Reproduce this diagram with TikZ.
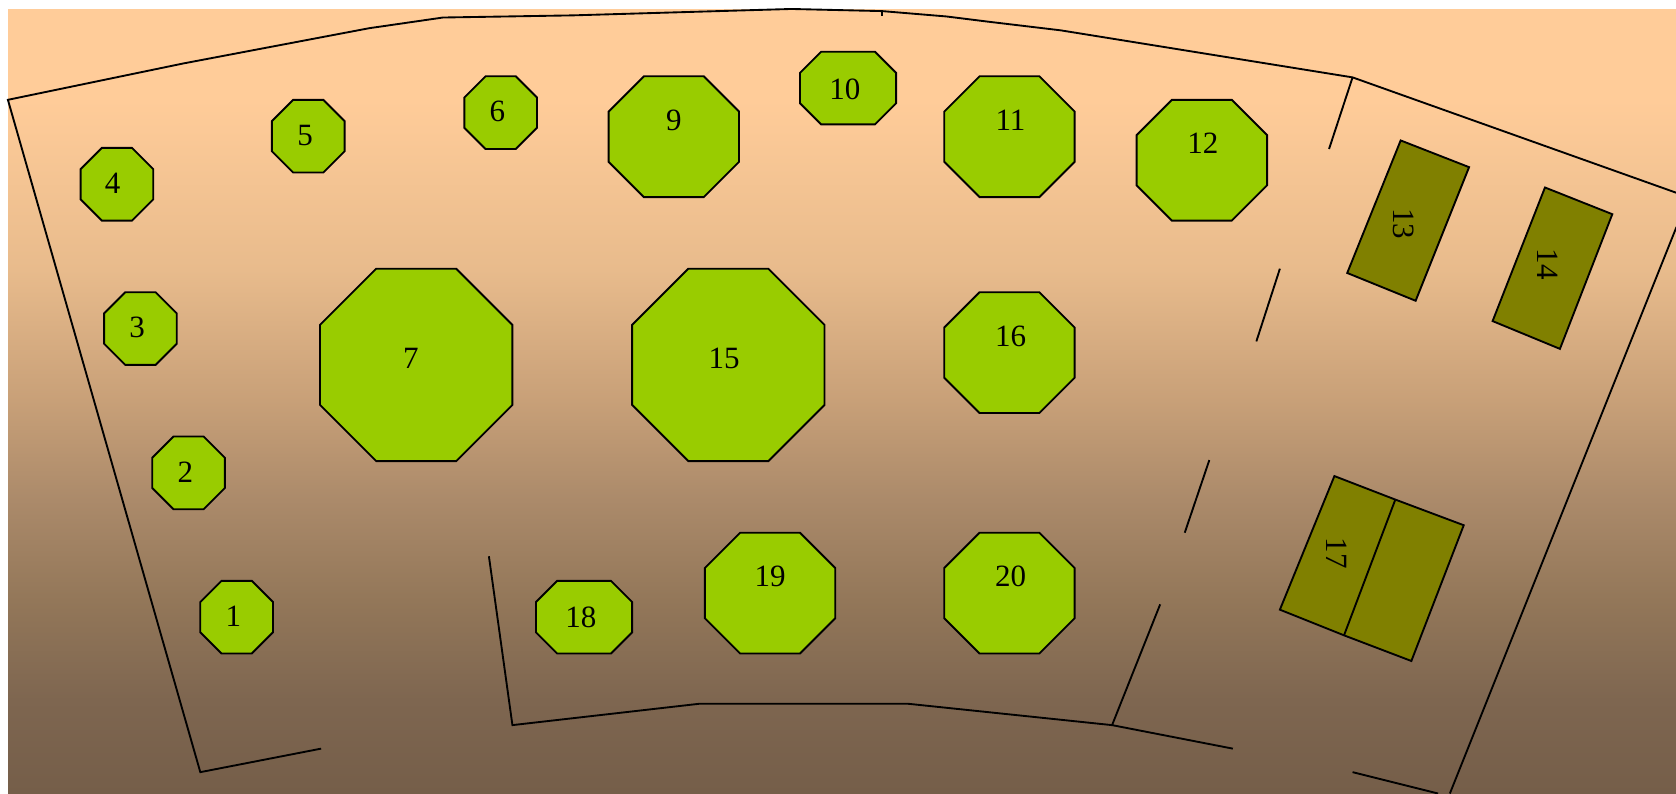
\documentclass[tikz,border=0pt]{standalone}
\usepackage{fontspec}
\setmainfont{Liberation Serif}
\definecolor{seat}{HTML}{99CC00}
\definecolor{stage}{HTML}{808000}
\definecolor{floorA}{HTML}{755E49}
\definecolor{floorB}{HTML}{7E6650}
\definecolor{floorC}{HTML}{937759}
\definecolor{floorD}{HTML}{AB8A6A}
\definecolor{floorE}{HTML}{C8A078}
\definecolor{floorF}{HTML}{E8BB8C}
\definecolor{floorG}{HTML}{FFCC99}
\pgfdeclareverticalshading{roomfloor}{100bp}{
color(0bp)=(floorA);color(25bp)=(floorA);
color(30.93bp)=(floorB);
color(37.31bp)=(floorC);
color(43.69bp)=(floorD);
color(50.06bp)=(floorE);
color(58.37bp)=(floorF);
color(69.2bp)=(floorG);
color(75bp)=(floorG);color(100bp)=(floorG)}
\tikzset{
  wall/.style={draw=black,line width=0.035cm,line join=miter},
  seatshape/.style={draw=black,fill=seat,line width=0.035cm,line join=miter},
  stageshape/.style={draw=black,fill=stage,line width=0.035cm,line join=miter},
  numlabel/.style={inner sep=0pt,font=\fontsize{16.5}{16.5}\selectfont},
  sidelabel/.style={numlabel,rotate=-90}
}
\newcommand{\octa}[8]{%
  % name, x0, x1, y0, y1, label, lx, ly
  \pgfmathsetmacro{\ocx}{0.292*min(#3-#2,#5-#4)}%
  \draw[seatshape] ({#2+\ocx},#4) -- ({#3-\ocx},#4) -- (#3,{#4+\ocx}) -- (#3,{#5-\ocx})
     -- ({#3-\ocx},#5) -- ({#2+\ocx},#5) -- (#2,{#5-\ocx}) -- (#2,{#4+\ocx}) -- cycle;
  \node[numlabel] (#1) at (#7,#8) {#6};
}
\begin{document}
\begin{tikzpicture}[x=0.02cm,y=-0.02cm]
\useasboundingbox (0,0) rectangle (1568,742);
\fill[shading=roomfloor] (7.5,8.5) rectangle (1568,742);
\begin{scope}[shift={(0.4,0.4)}]
% walls
\draw[wall] (300,700) -- (187,722) -- (7,93) -- (171,59) -- (345,26) -- (414,16) -- (535,14) -- (740,8) -- (825,10) -- (885,15) -- (925,20) -- (992,28) -- (1265,72) -- (1568,180);
\draw[wall] (825,10) -- (825,15);
\draw[wall] (1265,72) -- (1243,139);
\draw[wall] (1197,251) -- (1175,319);
\draw[wall] (1131,430) -- (1108,498);
\draw[wall] (1085,565) -- (1040,678) -- (1153,700);
\draw[wall] (1040,678) -- (849,658) -- (654,658) -- (479,678) -- (457,520);
\draw[wall] (1265,722) -- (1345,742);
\draw[wall] (1356,742) -- (1568,212);
% seats
\octa{s1}{187}{255}{543}{611}{1}{218}{576}
\octa{s2}{142}{210}{408}{476}{2}{173}{441}
\octa{s3}{97}{165}{273}{341}{3}{128}{306}
\octa{s4}{75}{143}{138}{206}{4}{105}{171}
\octa{s5}{254}{322}{93}{161}{5}{285}{126}
\octa{s6}{434}{502}{71}{139}{6}{465}{104}
\octa{s7}{299}{479}{251}{431}{7}{384}{335}
\octa{s9}{569}{691}{71}{184}{9}{630}{112}
\octa{s10}{748}{838}{48}{116}{10}{790}{83}
\octa{s11}{883}{1005}{71}{184}{11}{945}{112}
\octa{s12}{1063}{1185}{93}{206}{12}{1125}{134}
\octa{s15}{591}{771}{251}{431}{15}{677}{335}
\octa{s16}{883}{1005}{273}{386}{16}{945}{314}
\octa{s18}{501}{591}{543}{611}{18}{543}{577}
\octa{s19}{659}{781}{498}{611}{19}{720}{539}
\octa{s20}{883}{1005}{498}{611}{20}{945}{539}
% stages
\draw[stageshape] (1310,131) -- (1374,156) -- (1324,281) -- (1260,255) -- cycle;
\node[sidelabel] (s13) at (1313,209) {13};
\draw[stageshape] (1445,175) -- (1508,200) -- (1459,326) -- (1396,300) -- cycle;
\node[sidelabel] (s14) at (1448,247) {14};
\draw[stageshape] (1248,445) -- (1305,467) -- (1369,491) -- (1320,618) -- (1257,594) -- (1197,570) -- cycle;
\draw[stageshape] (1305,467) -- (1257,594);
\node[sidelabel] (s17) at (1250,517) {17};
\end{scope}
\end{tikzpicture}
\end{document}
